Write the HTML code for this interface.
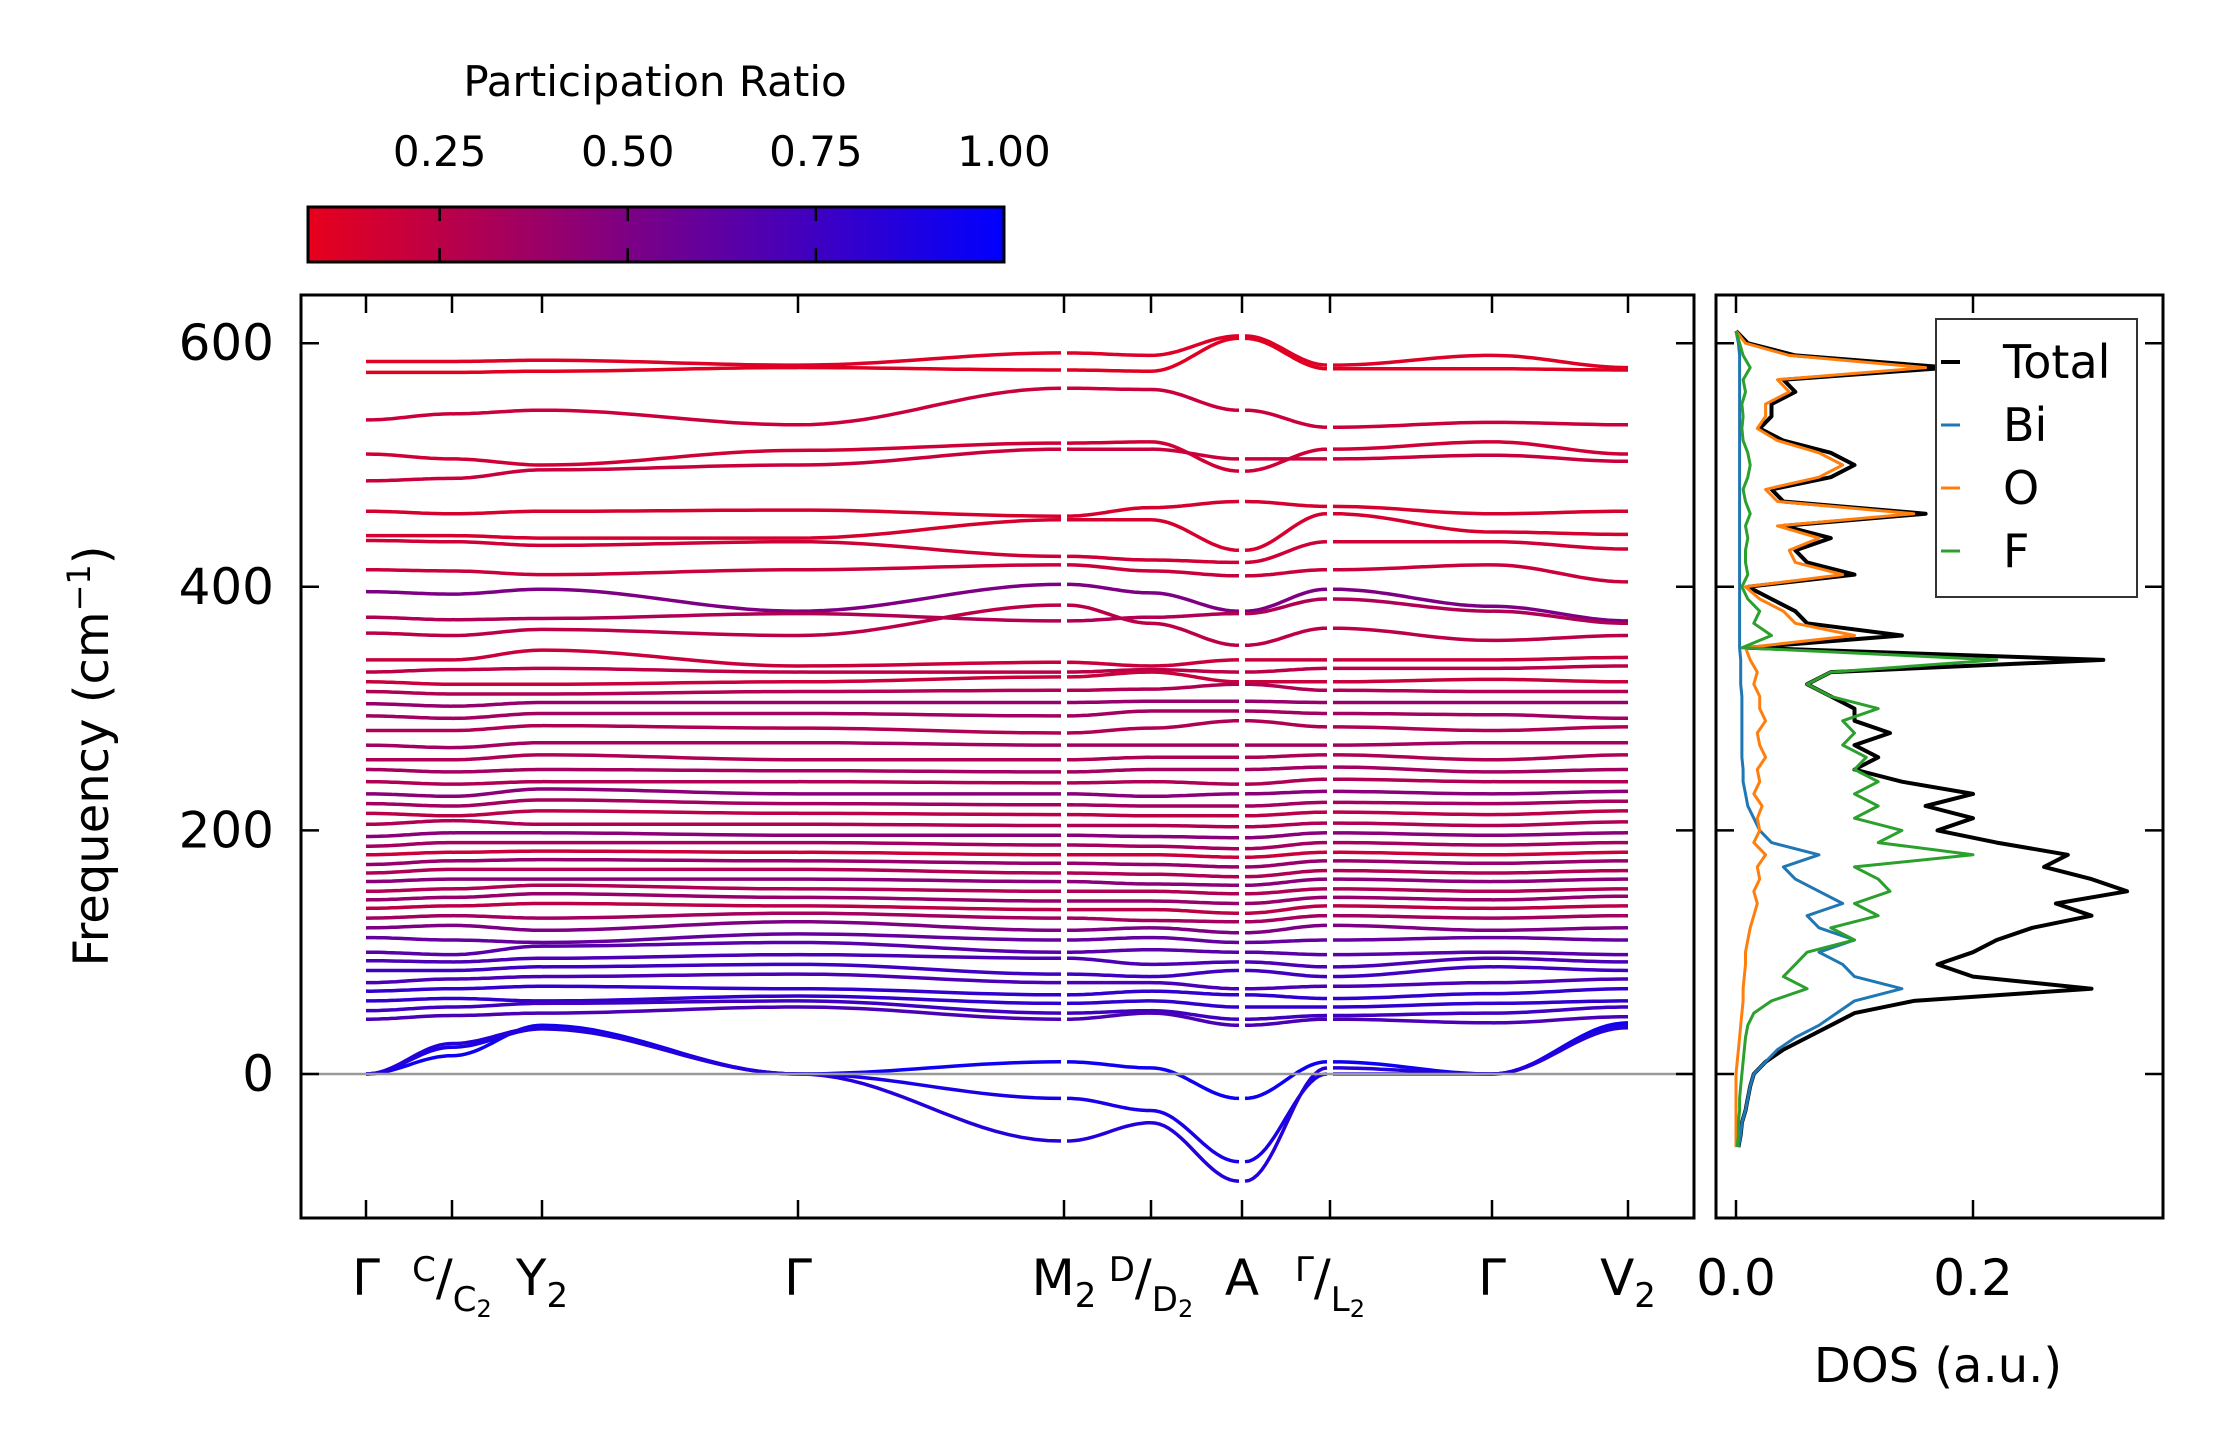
<!DOCTYPE html>
<html><head><meta charset="utf-8">
<style>
html,body{margin:0;padding:0;background:#fff;}
svg{display:block;font-family:"DejaVu Sans","Liberation Sans",sans-serif;}
</style></head>
<body>
<svg id="fig" width="2222" height="1455" viewBox="0 0 2222 1455" xmlns="http://www.w3.org/2000/svg">
<defs>
<linearGradient id="cbgrad" x1="0" x2="1" y1="0" y2="0">
<stop offset="0" stop-color="rgb(232,0,28)"/>
<stop offset="0.5" stop-color="rgb(116,0,141)"/>
<stop offset="1" stop-color="rgb(0,0,255)"/>
</linearGradient>
<clipPath id="clipMain"><rect x="301" y="295" width="1393" height="923"/></clipPath>
<clipPath id="clipDos"><rect x="1716" y="295" width="447" height="923"/></clipPath>
</defs>
<g>
<text x="655" y="96" font-size="42" text-anchor="middle">Participation Ratio</text>
<rect x="308" y="207" width="696" height="55" fill="url(#cbgrad)" stroke="#000" stroke-width="3"/>
<g id="cbticks"></g>
</g>
<g id="main">
<g id="bands" clip-path="url(#clipMain)"></g>
<line x1="301" x2="1694" y1="1074" y2="1074" stroke="#999" stroke-width="2.5"/>
<rect x="301" y="295" width="1393" height="923" fill="none" stroke="#000" stroke-width="3"/>
<g id="mainticks"></g>
<text transform="translate(108,756) rotate(-90)" font-size="48" text-anchor="middle">Frequency (cm<tspan dy="-18" font-size="32">−1</tspan><tspan dy="18">)</tspan></text>
</g>
<g id="dos">
<g id="dosLines" clip-path="url(#clipDos)"></g>
<rect x="1716" y="295" width="447" height="923" fill="none" stroke="#000" stroke-width="3"/>
<g id="dosticks"></g>
<text x="1938" y="1382" font-size="48" text-anchor="middle">DOS (a.u.)</text>
<g>
<rect x="1936" y="319" width="201" height="278" fill="#fff" stroke="#333" stroke-width="2"/>
<g id="legend"></g>
</g>
</g>
</svg>
<script>
// ---- data ----
const kLabels = ["Γ","C/C2","Y2","Γ","M2","D/D2","A","Γ/L2","Γ","V2"];
const yTicks = [0,200,400,600];
const cbTicks = [0.25,0.50,0.75,1.00];
const cbTickLabels = ["0.25","0.50","0.75","1.00"];
const dosTicks = [0.0,0.2];
const dosTickLabels = ["0.0","0.2"];
// band frequencies at the 10 high-symmetry points
const bandFreqs = [
[585,585,586,582,592,590,606,582,590,580],
[576,576,577,580,578,577,604,579,579,578],
[537,542,545,533,563,562,545,531,535,533],
[509,505,500,512,518,519,495,513,519,509],
[487,489,496,500,513,513,505,505,508,503],
[462,460,462,463,458,465,470,466,460,462],
[442,442,440,440,455,455,430,460,445,443],
[438,437,434,437,425,422,420,437,437,431],
[414,413,410,414,418,413,409,414,418,404],
[396,394,398,380,402,395,380,398,384,372],
[375,373,374,378,372,375,378,390,380,370],
[362,360,365,360,385,370,352,366,356,360],
[340,340,348,335,338,335,340,340,340,342],
[330,332,333,330,330,332,330,333,333,335],
[322,320,320,322,326,330,322,322,324,322],
[314,312,312,314,315,316,320,315,314,314],
[304,302,305,305,305,306,306,305,305,305],
[294,292,296,296,294,298,298,296,295,292],
[282,282,286,284,280,284,290,285,282,285],
[270,268,272,272,270,270,270,270,272,272],
[258,258,262,258,258,260,260,262,258,262],
[250,248,250,249,248,250,250,252,248,250],
[240,238,240,240,239,240,238,242,240,240],
[230,228,234,230,230,228,230,232,230,232],
[222,220,225,222,221,220,220,223,222,224],
[214,212,216,214,213,212,212,215,213,216],
[205,208,205,205,204,204,203,206,204,207],
[195,198,198,196,196,195,194,198,196,198],
[187,190,190,190,188,187,185,190,188,190],
[180,182,183,182,180,180,178,182,180,182],
[172,175,176,175,173,172,170,175,173,175],
[165,168,168,168,165,164,162,167,165,167],
[158,160,160,160,158,156,155,160,158,160],
[150,152,155,152,150,150,148,152,150,152],
[143,145,148,145,142,142,140,145,143,146],
[136,138,140,138,135,135,132,138,136,138],
[128,130,128,132,128,126,125,130,128,130],
[120,122,118,125,118,120,116,122,118,120],
[112,110,108,115,110,112,108,110,112,110],
[100,98,105,108,100,102,100,98,100,98],
[93,92,95,98,95,90,92,88,95,92],
[85,85,88,90,82,80,85,80,88,85],
[75,78,80,82,75,75,70,72,75,78],
[68,70,72,70,65,68,65,62,66,70],
[60,62,60,64,58,60,55,55,58,60],
[52,55,58,60,50,52,45,48,50,55],
[45,48,50,55,45,50,40,45,42,47],
[0,15,40,0,10,5,-20,10,0,42],
[0,22,37,0,-20,-30,-72,0,0,40],
[0,25,38,0,-55,-40,-88,5,0,38]
];
const bandPR = [0.12,0.1,0.2,0.18,0.2,0.15,0.15,0.18,0.2,0.5,0.3,0.25,0.2,0.25,0.2,0.3,0.4,0.35,0.3,0.35,0.3,0.35,0.3,0.45,0.35,0.25,0.3,0.45,0.35,0.2,0.4,0.3,0.45,0.3,0.4,0.25,0.35,0.5,0.6,0.65,0.7,0.75,0.7,0.8,0.8,0.75,0.7,0.95,0.9,0.85];
// DOS (frequency grid, step 10 cm^-1)
const dosFreq = [-60,-50,-40,-30,-20,-10,0,10,20,30,40,50,60,70,80,90,100,110,120,130,140,150,160,170,180,190,200,210,220,230,240,250,260,270,280,290,300,310,320,330,340,350,360,370,380,390,400,410,420,430,440,450,460,470,480,490,500,510,520,530,540,550,560,570,580,590,600,610];
const dosTotal = [0.002,0.004,0.005,0.008,0.01,0.012,0.015,0.025,0.04,0.06,0.08,0.1,0.15,0.3,0.2,0.17,0.2,0.22,0.25,0.3,0.27,0.33,0.3,0.26,0.28,0.22,0.17,0.2,0.16,0.2,0.14,0.1,0.12,0.1,0.13,0.1,0.1,0.08,0.06,0.08,0.31,0.01,0.14,0.06,0.05,0.03,0.01,0.1,0.06,0.05,0.08,0.04,0.16,0.04,0.03,0.08,0.1,0.08,0.04,0.02,0.03,0.03,0.05,0.04,0.18,0.05,0.01,0];
const dosBi = [0.002,0.004,0.005,0.008,0.01,0.012,0.015,0.025,0.035,0.05,0.07,0.085,0.1,0.14,0.1,0.09,0.07,0.1,0.07,0.06,0.09,0.07,0.05,0.04,0.07,0.03,0.02,0.015,0.01,0.008,0.006,0.006,0.005,0.005,0.005,0.005,0.005,0.005,0.004,0.004,0.004,0.003,0.003,0.003,0.003,0.003,0.003,0.003,0.003,0.003,0.003,0.003,0.003,0.003,0.003,0.003,0.003,0.003,0.003,0.003,0.003,0.003,0.003,0.003,0.003,0.003,0.002,0];
const dosO = [0,0,0,0,0,0,0,0.001,0.002,0.003,0.004,0.005,0.006,0.006,0.007,0.008,0.008,0.01,0.012,0.015,0.018,0.015,0.02,0.018,0.025,0.015,0.02,0.018,0.022,0.015,0.02,0.018,0.025,0.02,0.018,0.025,0.02,0.02,0.015,0.018,0.012,0.008,0.1,0.05,0.04,0.02,0.008,0.09,0.05,0.045,0.07,0.035,0.15,0.035,0.025,0.07,0.09,0.07,0.035,0.018,0.025,0.025,0.045,0.035,0.16,0.045,0.008,0];
const dosF = [0.001,0.002,0.002,0.003,0.003,0.004,0.005,0.006,0.007,0.008,0.01,0.015,0.03,0.06,0.04,0.05,0.06,0.1,0.08,0.12,0.1,0.13,0.12,0.1,0.2,0.12,0.14,0.1,0.12,0.1,0.12,0.1,0.11,0.09,0.1,0.09,0.12,0.08,0.06,0.08,0.22,0.005,0.03,0.015,0.02,0.01,0.005,0.01,0.008,0.008,0.01,0.008,0.012,0.008,0.006,0.01,0.012,0.01,0.006,0.005,0.006,0.005,0.008,0.006,0.012,0.006,0.003,0];
const legendNames = ["Total","Bi","O","F"];
</script>
<script>
const NS="http://www.w3.org/2000/svg";
function mk(tag, attrs, parent){const e=document.createElementNS(NS,tag);for(const k in attrs)e.setAttribute(k,attrs[k]);parent.appendChild(e);return e;}
const kX=[366,452,542,798,1064,1151,1242,1330,1492,1628];
const yScale=f=>1074-f*1.218;
const prColor=p=>{let t=(p-0.075)/(1-0.075);t=Math.max(0,Math.min(1,t));return `rgb(${Math.round(232*(1-t))},0,${Math.round(28+227*t)})`;};
const dosX=v=>1736+v*1185;
const breaks=[4,6,7];
// colorbar ticks
const cbG=document.getElementById('cbticks');
const cbX=v=>308+(v-0.075)/(1-0.075)*696;
cbTicks.forEach((v,i)=>{
  const x=cbX(v);
  if(i<cbTicks.length-1){
    const l=mk('line',{x1:x,x2:x,y1:207,y2:221,stroke:'#000','stroke-width':2.5},cbG);
    
    
    const l2=mk('line',{x1:x,x2:x,y1:248,y2:262,stroke:'#000','stroke-width':2.5},cbG);
    
    
  }
  const t=mk('text',{x:x,y:166,'font-size':42,'text-anchor':'middle'},cbG);
  t.textContent=cbTickLabels[i];
  
  
});
// bands
const bG=document.getElementById('bands');
bandFreqs.forEach((fr,bi)=>{
  const col=prColor(bandPR[bi]);
  for(let s=0;s<kX.length-1;s++){
    let x0=kX[s],x1=kX[s+1];
    if(breaks.includes(s))x0+=3;
    if(breaks.includes(s+1))x1-=3;
    const y0=yScale(fr[s]),y1=yScale(fr[s+1]);
    let d=`M${x0},${y0}`;
    const n=20;
    for(let i=1;i<=n;i++){const t=i/n;const e=(1-Math.cos(Math.PI*t))/2;d+=` L${(x0+(x1-x0)*t).toFixed(1)},${(y0+(y1-y0)*e).toFixed(1)}`;}
    const p=mk('path',{d:d,fill:'none',stroke:col,'stroke-width':3.5},bG);
    
    
  }
});
// main ticks
const mt=document.getElementById('mainticks');
kX.forEach((x,i)=>{
  const a=mk('line',{x1:x,x2:x,y1:295,y2:313,stroke:'#000','stroke-width':2.5},mt);
  
  
  const b=mk('line',{x1:x,x2:x,y1:1200,y2:1218,stroke:'#000','stroke-width':2.5},mt);
  
  
  const lab=kLabels[i];
  const t=mk('text',{x:x,y:1295,'font-size':50,'text-anchor':'middle'},mt);
  
  
  if(lab.includes('/')){
    const [a1,b1]=lab.split('/');
    const s1=mk('tspan',{'font-size':34,dy:-14},t);s1.textContent=a1;
    const s2=mk('tspan',{dy:14},t);s2.textContent='/';
    const s3=mk('tspan',{'font-size':34,dy:16},t);s3.textContent=b1.replace('2','');
    const s4=mk('tspan',{'font-size':24,dy:6},t);s4.textContent='2';
  } else if(lab.endsWith('2')){
    const s1=mk('tspan',{},t);s1.textContent=lab.slice(0,-1);
    const s2=mk('tspan',{'font-size':34,dy:12},t);s2.textContent='2';
  } else t.textContent=lab;
});
yTicks.forEach(v=>{
  const y=yScale(v);
  const a=mk('line',{x1:301,x2:319,y1:y,y2:y,stroke:'#000','stroke-width':2.5},mt);
  
  
  const b=mk('line',{x1:1676,x2:1694,y1:y,y2:y,stroke:'#000','stroke-width':2.5},mt);
  
  
  const t=mk('text',{x:274,y:y+17,'font-size':50,'text-anchor':'end'},mt);
  t.textContent=String(v);
  
  
});
// DOS
const dG=document.getElementById('dosLines');
const series=[[dosTotal,'#000',4,'dos-total-line'],[dosBi,'#1f77b4',3,'dos-bi-line'],[dosO,'#ff7f0e',3,'dos-o-line'],[dosF,'#2ca02c',3,'dos-f-line']];
series.forEach(([arr,col,w,nm])=>{
  const pts=arr.map((v,i)=>`${dosX(v).toFixed(1)},${yScale(dosFreq[i]).toFixed(1)}`).join(' ');
  const p=mk('polyline',{points:pts,fill:'none',stroke:col,'stroke-width':w,'stroke-linejoin':'round'},dG);
  
  
});
const dt=document.getElementById('dosticks');
dosTicks.forEach((v,i)=>{
  const x=dosX(v);
  const a=mk('line',{x1:x,x2:x,y1:295,y2:313,stroke:'#000','stroke-width':2.5},dt);
  
  
  const b=mk('line',{x1:x,x2:x,y1:1200,y2:1218,stroke:'#000','stroke-width':2.5},dt);
  
  
  const t=mk('text',{x:x,y:1295,'font-size':50,'text-anchor':'middle'},dt);
  t.textContent=dosTickLabels[i];
  
  
});
yTicks.forEach(v=>{
  const y=yScale(v);
  const a=mk('line',{x1:1716,x2:1734,y1:y,y2:y,stroke:'#000','stroke-width':2.5},dt);
  
  
  const b=mk('line',{x1:2145,x2:2163,y1:y,y2:y,stroke:'#000','stroke-width':2.5},dt);
  
  
});
// legend
const lg=document.getElementById('legend');
const lcols=['#000','#1f77b4','#ff7f0e','#2ca02c'];
legendNames.forEach((n,i)=>{
  const y=362+i*63;
  const l=mk('line',{x1:1941,x2:1960,y1:y,y2:y,stroke:lcols[i],'stroke-width':i==0?4:3},lg);
  
  
  const t=mk('text',{x:2003,y:y+16,'font-size':46},lg);
  t.textContent=n;
  
  
});
</script>
</body></html>
